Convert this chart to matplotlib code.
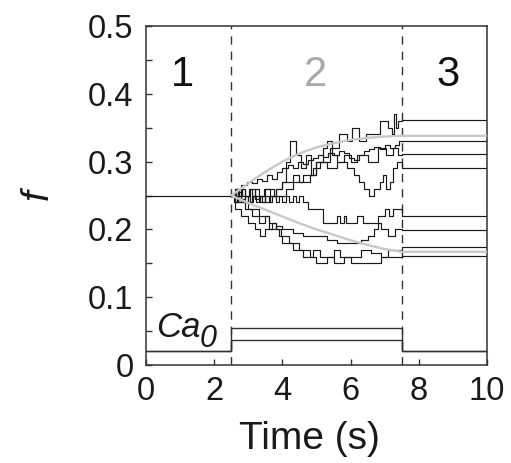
import matplotlib
matplotlib.use("Agg")
import matplotlib.pyplot as plt
import numpy as np

plt.rcParams['font.family'] = ['Liberation Sans', 'DejaVu Sans']

# ---- data ----
phase_edges = [2.5, 7.5]
f_initial = 0.25

# stochastic traces during phase 2 (step changes: time, value)
up1_t = [2.5, 2.62, 2.7, 2.82, 2.9, 3.02, 3.1, 3.2, 3.3, 3.45, 3.6, 3.75, 3.9, 4.1, 4.3, 4.6, 4.9, 5.1, 5.4, 5.65, 5.9, 6.05, 6.25, 6.45, 6.65, 6.85, 7.1, 7.2, 7.28, 7.33, 7.4]
up1_f = [0.25, 0.26, 0.25, 0.26, 0.25, 0.26, 0.25, 0.26, 0.25, 0.26, 0.26, 0.25, 0.25, 0.26, 0.27, 0.28, 0.29, 0.30, 0.32, 0.34, 0.33, 0.35, 0.33, 0.34, 0.34, 0.36, 0.35, 0.34, 0.37, 0.35, 0.36]
up1_end = 0.361

up2_t = [2.5, 2.65, 2.8, 2.95, 3.1, 3.25, 3.4, 3.55, 3.7, 3.85, 4.0, 4.15, 4.3, 4.45, 4.6, 4.75, 4.9, 5.05, 5.2, 5.35, 5.5, 5.65, 5.8, 5.95, 6.1, 6.25, 6.4, 6.55, 6.7, 6.85, 7.0, 7.15, 7.3, 7.42]
up2_f = [0.25, 0.26, 0.265, 0.27, 0.268, 0.275, 0.272, 0.28, 0.275, 0.285, 0.29, 0.295, 0.29, 0.30, 0.297, 0.303, 0.305, 0.31, 0.307, 0.313, 0.31, 0.316, 0.312, 0.306, 0.302, 0.31, 0.315, 0.318, 0.322, 0.318, 0.325, 0.32, 0.324, 0.33]
up2_end = 0.331

up3_t = [2.5, 2.6, 2.7, 2.8, 2.9, 3.0, 3.1, 3.2, 3.35, 3.5, 3.65, 3.8, 4.0, 4.12, 4.22, 4.4, 4.55, 4.7, 4.85, 5.0, 5.2, 5.32, 5.45, 5.6, 5.8, 6.0, 6.2, 6.5, 6.8, 7.05, 7.25, 7.38]
up3_f = [0.25, 0.24, 0.255, 0.245, 0.25, 0.24, 0.25, 0.245, 0.25, 0.24, 0.25, 0.26, 0.27, 0.30, 0.33, 0.31, 0.29, 0.31, 0.28, 0.30, 0.32, 0.33, 0.31, 0.30, 0.31, 0.30, 0.31, 0.30, 0.32, 0.31, 0.32, 0.31]
up3_end = 0.311

up4_t = [2.5, 2.6, 2.7, 2.8, 2.9, 3.05, 3.2, 3.35, 3.5, 3.65, 3.8, 4.0, 4.3, 4.5, 4.8, 5.0, 5.3, 5.6, 5.9, 6.1, 6.25, 6.4, 6.55, 6.7, 6.85, 6.95, 7.05, 7.15, 7.25, 7.35]
up4_f = [0.25, 0.26, 0.24, 0.26, 0.25, 0.26, 0.25, 0.24, 0.26, 0.25, 0.26, 0.27, 0.28, 0.27, 0.28, 0.30, 0.29, 0.30, 0.29, 0.28, 0.27, 0.26, 0.25, 0.26, 0.27, 0.28, 0.26, 0.27, 0.29, 0.30]
up4_end = 0.290

dn1_t = [2.5, 2.58, 2.66, 2.74, 2.82, 2.9, 2.98, 3.06, 3.14, 3.22, 3.3, 3.4, 3.5, 3.6, 3.7, 3.8, 3.9, 4.0, 4.1, 4.2, 4.3, 4.4, 4.5, 4.6, 4.75, 5.2, 5.6, 5.68, 5.8, 5.88, 6.2, 6.35, 6.8, 7.0, 7.12, 7.25]
dn1_f = [0.25, 0.24, 0.25, 0.26, 0.25, 0.24, 0.25, 0.24, 0.25, 0.24, 0.25, 0.24, 0.25, 0.24, 0.25, 0.24, 0.25, 0.24, 0.25, 0.24, 0.25, 0.24, 0.25, 0.24, 0.23, 0.21, 0.22, 0.21, 0.22, 0.21, 0.22, 0.21, 0.22, 0.23, 0.22, 0.23]
dn1_end = 0.220

dn2_t = [2.5, 2.6, 2.7, 2.8, 2.9, 3.1, 3.3, 3.5, 3.6, 3.8, 4.0, 4.3, 4.6, 5.0, 5.3, 5.6, 6.0, 6.3, 6.5, 6.7, 6.8, 6.9, 7.1, 7.3]
dn2_f = [0.25, 0.24, 0.25, 0.24, 0.23, 0.22, 0.21, 0.22, 0.20, 0.205, 0.20, 0.195, 0.19, 0.19, 0.185, 0.18, 0.18, 0.185, 0.19, 0.20, 0.21, 0.20, 0.19, 0.20]
dn2_end = 0.199

dn3_t = [2.5, 2.6, 2.8, 3.0, 3.2, 3.35, 3.5, 3.7, 3.8, 3.9, 4.0, 4.3, 4.6, 4.9, 5.1, 5.5, 5.7, 6.0, 6.3, 6.6, 6.9, 7.1]
dn3_f = [0.25, 0.23, 0.22, 0.21, 0.20, 0.19, 0.20, 0.21, 0.20, 0.19, 0.18, 0.17, 0.16, 0.17, 0.16, 0.17, 0.16, 0.16, 0.17, 0.165, 0.16, 0.17]
dn3_end = 0.1745

dn4_t = [2.5, 2.7, 3.0, 3.3, 3.6, 3.8, 3.95, 4.2, 4.5, 4.8, 5.0, 5.3, 5.5, 5.8, 6.0, 6.6, 6.9]
dn4_f = [0.25, 0.24, 0.23, 0.22, 0.21, 0.20, 0.19, 0.18, 0.17, 0.16, 0.15, 0.16, 0.15, 0.16, 0.15, 0.15, 0.16]
dn4_end = 0.161

# deterministic (mean-field) curves, gray
mean_t = [2.5, 3.0, 3.5, 4.0, 4.5, 5.0, 5.5, 6.0, 6.5, 7.0, 7.5, 10.0]
mean_up = [0.25, 0.268, 0.285, 0.300, 0.312, 0.321, 0.327, 0.332, 0.335, 0.337, 0.338, 0.338]
mean_dn = [0.25, 0.239, 0.229, 0.219, 0.209, 0.200, 0.192, 0.184, 0.177, 0.171, 0.167, 0.167]

# Ca0 input
ca_base = 0.02
ca_levels = [0.037, 0.055]

phase_labels = ['1', '2', '3']
phase_label_t = [1.08, 4.96, 8.86]
phase_label_colors = ['#111111', '#a8a8a8', '#111111']

# ---- figure ----
fig = plt.figure(figsize=(5.11, 4.63), dpi=100)
ax = fig.add_axes([0.2857, 0.2117, 0.6673, 0.7321])

lc = '#1a1a1a'
lw = 0.85

# initial phase
ax.plot([0, phase_edges[0]], [f_initial, f_initial], color=lc, lw=lw)

traces = [(up1_t, up1_f, up1_end), (up2_t, up2_f, up2_end), (up3_t, up3_f, up3_end),
          (up4_t, up4_f, up4_end), (dn1_t, dn1_f, dn1_end), (dn2_t, dn2_f, dn2_end),
          (dn3_t, dn3_f, dn3_end), (dn4_t, dn4_f, dn4_end)]
for tt, ff, fend in traces:
    t = list(tt) + [phase_edges[1], 10.0]
    f = list(ff) + [fend, fend]
    ax.plot(t, f, drawstyle='steps-post', color=lc, lw=lw)

# mean-field curves
ax.plot(mean_t, mean_up, color='#c8c8c8', lw=1.7, zorder=3, solid_capstyle='butt')
ax.plot(mean_t, mean_dn, color='#c8c8c8', lw=1.7, zorder=3, solid_capstyle='butt')

# Ca0 input
for lev in ca_levels:
    ax.plot([0, phase_edges[0], phase_edges[0], phase_edges[1], phase_edges[1], 10],
            [ca_base, ca_base, lev, lev, ca_base, ca_base], color='#333333', lw=1.0)

# phase dividers
for x in phase_edges:
    ax.axvline(x, color='#333333', lw=1.0, ls=(0, (6, 5)), zorder=1)

for lab, t, c in zip(phase_labels, phase_label_t, phase_label_colors):
    ax.text(t, 0.428, lab, color=c, fontsize=30, ha='center', va='center')

ax.text(0.29, 0.041, 'Ca', fontsize=25, style='italic', ha='left', va='baseline', color='#1a1a1a')
ax.text(1.58, 0.0265, '0', fontsize=22, style='italic', ha='left', va='baseline', color='#1a1a1a')

ax.set_xlim(0, 10)
ax.set_ylim(0, 0.5)
ax.set_xticks([0, 2, 4, 6, 8, 10])
ax.set_xticklabels(['0', '2', '4', '6', '8', '10'])
ax.set_yticks([0, 0.1, 0.2, 0.3, 0.4, 0.5])
ax.set_yticklabels(['0', '0.1', '0.2', '0.3', '0.4', '0.5'])
ax.set_yticks(np.arange(0.05, 0.5, 0.1), minor=True)
ax.tick_params(which='both', direction='in', length=4, width=1.0, color='#333333',
               labelsize=23.5, labelcolor='#1a1a1a')
ax.tick_params(axis='y', pad=9)
ax.tick_params(axis='x', pad=8)
for s in ax.spines.values():
    s.set_color('#333333')
    s.set_linewidth(1.1)

fig.text(309 / 511, 1 - 449 / 463, 'Time (s)', fontsize=28, color='#1a1a1a',
         ha='center', va='baseline')
fig.text(38 / 511, 1 - 195 / 463, 'f', fontsize=28, style='italic', rotation=90,
         ha='center', va='center', color='#1a1a1a')

fig.savefig('out.png', dpi=100)
